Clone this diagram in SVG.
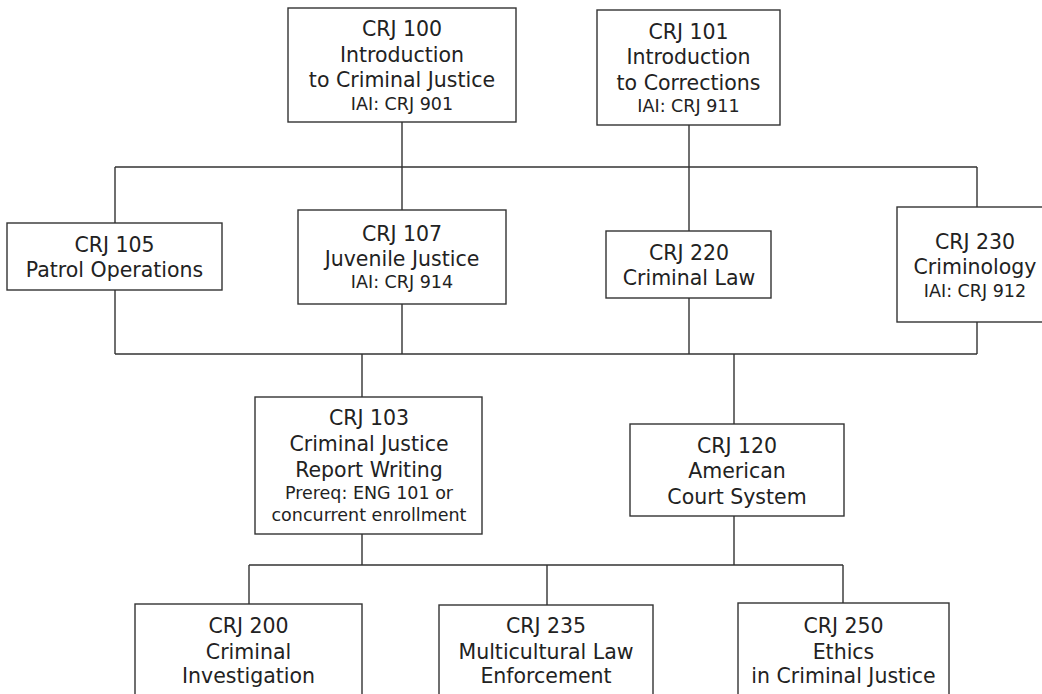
<svg xmlns="http://www.w3.org/2000/svg" width="1042" height="694" viewBox="0 0 1042 694">
<style>
.box{fill:#fff;stroke:#333;stroke-width:1.4}
.ln{fill:none;stroke:#333;stroke-width:1.4}
text{font-family:"DejaVu Sans","Liberation Sans",sans-serif;font-size:20.5px;fill:#222;text-anchor:middle}
.s{font-size:17.5px}
</style>
<rect width="1042" height="694" fill="#fff"/>
<g id="connectors">
<path class="ln" d="M402 122V210M689 125V231M115 167H977M115 167V223M977 167V207"/>
<path class="ln" d="M115 290V354M402 304V354M689 298V354M977 322V354M115 354H977M362 354V397M734 354V424"/>
<path class="ln" d="M362 534V565M734 516V565M249 565H843M249 565V604M547 565V605M843 565V603"/>
</g>
<g id="crj100"><rect class="box" x="288" y="8" width="228" height="114"/>
<text x="402" y="36">CRJ 100</text><text x="402" y="62">Introduction</text><text x="402" y="87">to Criminal Justice</text><text class="s" x="402" y="110">IAI: CRJ 901</text></g>
<g id="crj101"><rect class="box" x="597" y="10" width="183" height="115"/>
<text x="688.5" y="39">CRJ 101</text><text x="688.5" y="64">Introduction</text><text x="688.5" y="90">to Corrections</text><text class="s" x="688.5" y="112">IAI: CRJ 911</text></g>
<g id="crj105"><rect class="box" x="7" y="223" width="215" height="67"/>
<text x="114.5" y="251.5">CRJ 105</text><text x="114.5" y="277">Patrol Operations</text></g>
<g id="crj107"><rect class="box" x="298" y="210" width="208" height="94"/>
<text x="402" y="240.5">CRJ 107</text><text x="402" y="265.5">Juvenile Justice</text><text class="s" x="402" y="288">IAI: CRJ 914</text></g>
<g id="crj220"><rect class="box" x="606" y="231" width="165" height="67"/>
<text x="689" y="260">CRJ 220</text><text x="689" y="285">Criminal Law</text></g>
<g id="crj230"><rect class="box" x="897" y="207" width="160" height="115"/>
<text x="975" y="249">CRJ 230</text><text x="975" y="274">Criminology</text><text class="s" x="975" y="296.5">IAI: CRJ 912</text></g>
<g id="crj103"><rect class="box" x="255" y="397" width="227" height="137"/>
<text x="369" y="424.5">CRJ 103</text><text x="369" y="450.5">Criminal Justice</text><text x="369" y="476.5">Report Writing</text><text class="s" x="369" y="499">Prereq: ENG 101 or</text><text class="s" x="369" y="521">concurrent enrollment</text></g>
<g id="crj120"><rect class="box" x="630" y="424" width="214" height="92"/>
<text x="737" y="452.5">CRJ 120</text><text x="737" y="478">American</text><text x="737" y="503.5">Court System</text></g>
<g id="crj200"><rect class="box" x="135" y="604" width="227" height="100"/>
<text x="248.5" y="632.5">CRJ 200</text><text x="248.5" y="658.5">Criminal</text><text x="248.5" y="683">Investigation</text></g>
<g id="crj235"><rect class="box" x="439" y="605" width="214" height="100"/>
<text x="546" y="632.5">CRJ 235</text><text x="546" y="658.5">Multicultural Law</text><text x="546" y="683">Enforcement</text></g>
<g id="crj250"><rect class="box" x="738" y="603" width="211" height="100"/>
<text x="843.5" y="632.5">CRJ 250</text><text x="843.5" y="658.5">Ethics</text><text x="843.5" y="683">in Criminal Justice</text></g>
</svg>
